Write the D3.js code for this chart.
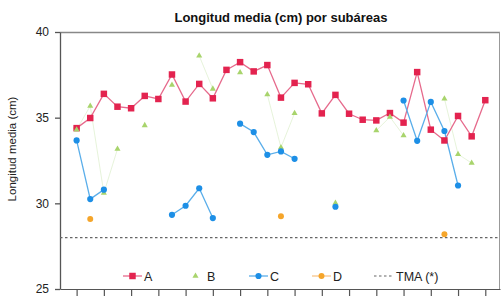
<!DOCTYPE html>
<html><head><meta charset="utf-8">
<script src="https://cdn.jsdelivr.net/npm/d3@7"></script>
<style>body{margin:0;background:#fff}svg{display:block;font-family:"Liberation Sans",Arial,sans-serif}</style>
</head><body><svg id="c" width="501" height="297"></svg>
<script>
const categories = d3.range(1, 32);
const seriesA = [34.39,34.98,36.39,35.64,35.55,36.27,36.09,37.52,35.94,36.97,36.13,37.79,38.24,37.70,38.07,36.17,37.03,36.95,35.25,36.33,35.23,34.88,34.84,35.27,34.71,37.66,34.30,33.67,35.10,33.91,36.02];
const seriesB = [34.3,35.68,30.6,33.17,null,34.55,null,36.9,null,38.61,36.68,null,37.64,null,36.35,33.26,35.26,null,null,30.02,null,null,34.25,35.04,33.96,null,null,36.11,32.87,32.35,null];
const seriesC = [33.67,30.25,30.80,null,null,null,null,29.33,29.86,30.88,29.14,null,34.65,34.16,32.83,33.03,32.60,null,null,29.8,null,null,null,null,36.0,33.65,35.92,34.22,31.04,null,null];
const seriesD = [34.4,29.08,null,null,null,null,null,null,null,null,null,null,null,null,null,29.24,null,null,null,null,null,null,null,null,null,null,null,28.2,null,null,null];
const tmaValue = 28;
const yTicks = [25, 30, 35, 40];
const xTickIdx = d3.range(0, 31, 2);
const title = "Longitud media (cm) por subáreas";
const yTitle = "Longitud media (cm)";
const legendLabels = ["A", "B", "C", "D", "TMA (*)"];

const svg = d3.select("#c");
const L = 60, R = 500, T = 32, B = 289;
const x = d3.scaleLinear().domain([-1.22, 31.08]).range([L, R]);
const y = d3.scaleLinear().domain([25, 40]).range([B, T]);

svg.append("text").attr("x", 281).attr("y", 22).attr("text-anchor", "middle")
  .attr("font-size", 13).attr("font-weight", "bold").attr("fill", "#111").text(title);
svg.append("text").attr("transform", `translate(16,149) rotate(-90)`).attr("text-anchor", "middle")
  .attr("font-size", 11.5).attr("fill", "#222").text(yTitle);

// frame
svg.append("line").attr("x1", L).attr("x2", R).attr("y1", T + 0.5).attr("y2", T + 0.5).attr("stroke", "#888").attr("stroke-width", 1.5);
svg.append("line").attr("x1", R - 0.5).attr("x2", R - 0.5).attr("y1", T).attr("y2", B).attr("stroke", "#999");

const gy = svg.append("g").attr("transform", `translate(${L},0)`)
  .call(d3.axisLeft(y).tickValues(yTicks).tickSize(5).tickSizeOuter(0).tickPadding(6));
gy.selectAll("text").attr("font-size", 12).attr("fill", "#222").attr("font-family", "Liberation Sans, Arial, sans-serif");
gy.selectAll("line,path").attr("stroke", "#555").attr("stroke-width", 1.3);

const gx = svg.append("g").attr("transform", `translate(0,${B})`)
  .call(d3.axisBottom(x).tickValues(xTickIdx).tickFormat("").tickSize(7).tickSizeOuter(0));
gx.selectAll("line,path").attr("stroke", "#555").attr("stroke-width", 1.2);

// TMA
svg.append("line").attr("x1", L).attr("x2", R).attr("y1", y(tmaValue)).attr("y2", y(tmaValue))
  .attr("stroke", "#666").attr("stroke-dasharray", "2.5,2.5").attr("stroke-width", 1.2);

const line = d3.line().defined(d => d[1] != null).x(d => x(d[0])).y(d => y(d[1]));
const pts = arr => arr.map((v, i) => [i, v]);

const colA = "#e3234f", lineA = "#e66a8c";
const colB = "#a8d46c", lineB = "#e0f0d0";
const colC = "#1d8fe6", lineC = "#5aaeea";
const colD = "#f5a52a";

svg.append("path").attr("d", line(pts(seriesB))).attr("fill", "none").attr("stroke", lineB).attr("stroke-width", 0.8);
svg.append("path").attr("d", line(pts(seriesA))).attr("fill", "none").attr("stroke", lineA).attr("stroke-width", 1.3);
svg.append("path").attr("d", line(pts(seriesC))).attr("fill", "none").attr("stroke", lineC).attr("stroke-width", 1.3);

const sym = (type, size) => d3.symbol().type(type).size(size)();
function markers(arr, type, size, color) {
  svg.append("g").selectAll("path").data(pts(arr).filter(d => d[1] != null)).join("path")
    .attr("transform", d => `translate(${x(d[0])},${y(d[1])})`)
    .attr("d", sym(type, size)).attr("fill", color);
}
markers(seriesD, d3.symbolCircle, 28, colD);
markers(seriesA, d3.symbolSquare, 42, colA);
markers(seriesB, d3.symbolTriangle, 16, colB);
markers(seriesC, d3.symbolCircle, 30, colC);

// legend
const ly = 276, lx0 = 123, lstep = 63;
const leg = [
  {t: legendLabels[0], line: lineA, m: d3.symbolSquare, ms: 42, mc: colA},
  {t: legendLabels[1], line: null, m: d3.symbolTriangle, ms: 16, mc: colB},
  {t: legendLabels[2], line: lineC, m: d3.symbolCircle, ms: 30, mc: colC},
  {t: legendLabels[3], line: "#f8c58a", m: d3.symbolCircle, ms: 28, mc: colD},
  {t: legendLabels[4], dash: true}
];
leg.forEach((d, i) => {
  const gx0 = lx0 + i * lstep;
  const g = svg.append("g");
  if (d.dash) {
    g.append("line").attr("x1", gx0 - 1).attr("x2", gx0 + 19).attr("y1", ly).attr("y2", ly)
      .attr("stroke", "#666").attr("stroke-dasharray", "2.5,2.5").attr("stroke-width", 1.2);
  } else {
    if (d.line) g.append("line").attr("x1", gx0).attr("x2", gx0 + 19).attr("y1", ly).attr("y2", ly).attr("stroke", d.line).attr("stroke-width", 1.3);
    g.append("path").attr("transform", `translate(${gx0 + 9.5},${ly})`).attr("d", sym(d.m, d.ms)).attr("fill", d.mc);
  }
  g.append("text").attr("x", gx0 + 21).attr("y", ly + 4.5).attr("font-size", 12.5).attr("fill", "#222").text(d.t);
});
</script></body></html>
